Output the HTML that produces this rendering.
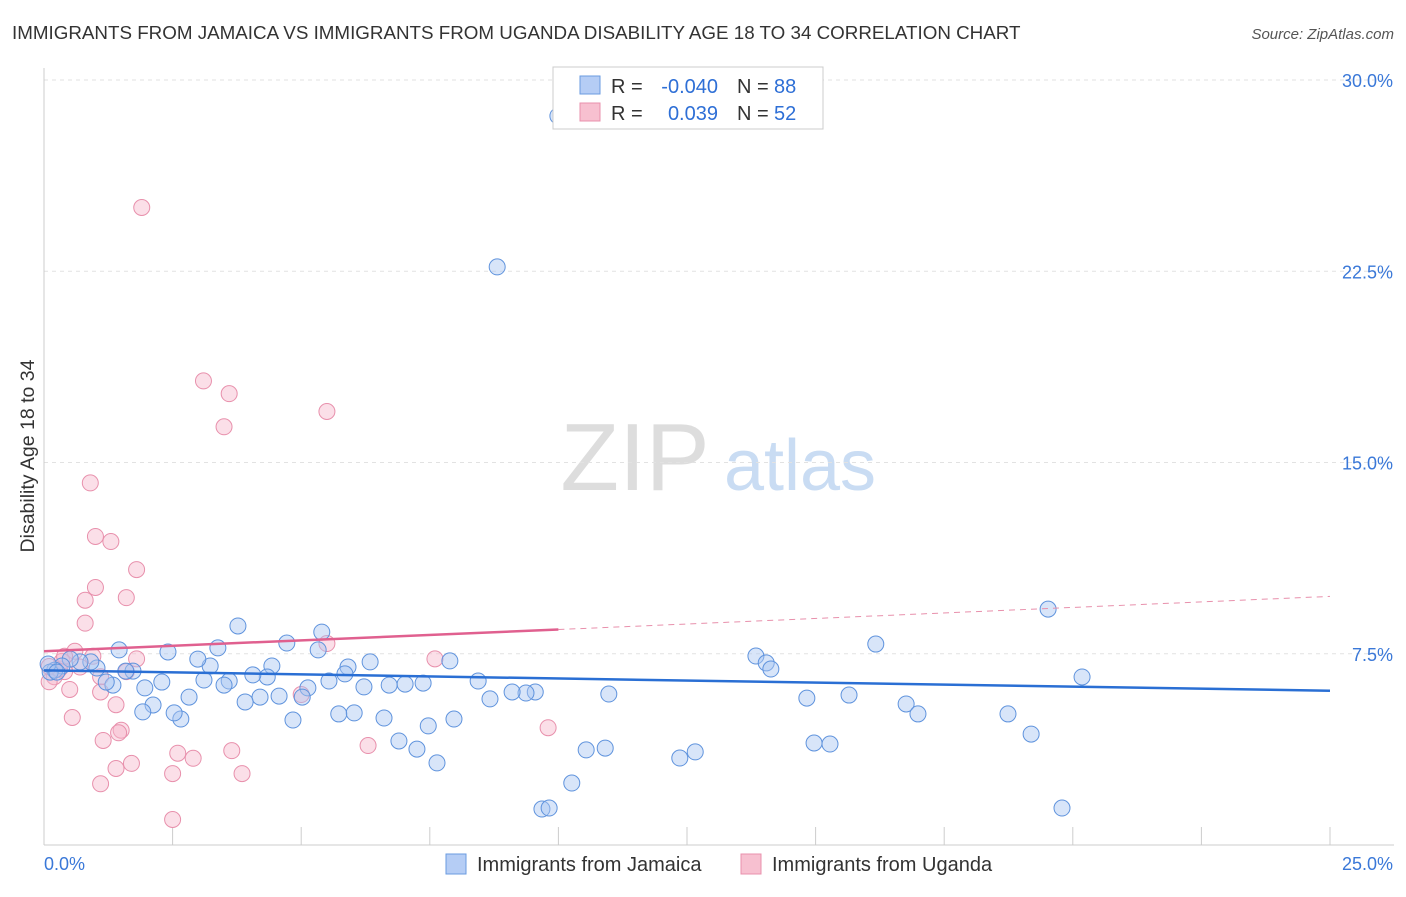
<!DOCTYPE html>
<html><head><meta charset="utf-8"><style>
body{margin:0;background:#fff;font-family:"Liberation Sans",sans-serif}
svg text{font-family:"Liberation Sans",sans-serif}
</style></head><body>
<svg width="1406" height="892" xmlns="http://www.w3.org/2000/svg">
<text x="12" y="39" font-size="18.8" fill="#333">IMMIGRANTS FROM JAMAICA VS IMMIGRANTS FROM UGANDA DISABILITY AGE 18 TO 34 CORRELATION CHART</text>
<text x="1394" y="39" font-size="15" fill="#555" text-anchor="end" font-style="italic">Source: ZipAtlas.com</text>
<g>
<text x="635" y="490" font-size="96" fill="#ddd" text-anchor="middle" font-family="Liberation Serif,serif">ZIP</text>
<text x="800" y="490" font-size="72" fill="#c9dcf3" text-anchor="middle">atlas</text></g>
<g id="grid"></g><g id="axes"></g><g id="marks"></g>
<text transform="translate(34,456) rotate(-90)" font-size="19.5" fill="#333" text-anchor="middle">Disability Age 18 to 34</text>
<g>
<rect x="553" y="67" width="270" height="62" fill="#fff" stroke="#ccc"/>
<rect x="580" y="76" width="20" height="18" fill="#b5cdf5" stroke="#6a9be0"/>
<rect x="580" y="103" width="20" height="18" fill="#f7c0d0" stroke="#e890ac"/>
<text x="611" y="93" font-size="20" fill="#333">R =</text>
<text x="718" y="93" font-size="20" fill="#2e6fd6" text-anchor="end">-0.040</text>
<text x="737" y="93" font-size="20" fill="#333">N =</text>
<text x="774" y="93" font-size="20" fill="#2e6fd6">88</text>
<text x="611" y="120" font-size="20" fill="#333">R =</text>
<text x="718" y="120" font-size="20" fill="#2e6fd6" text-anchor="end">0.039</text>
<text x="737" y="120" font-size="20" fill="#333">N =</text>
<text x="774" y="120" font-size="20" fill="#2e6fd6">52</text></g>
<g>
<rect x="446" y="854" width="20" height="20" fill="#b5cdf5" stroke="#6a9be0"/>
<text x="477" y="871" font-size="20" fill="#333">Immigrants from Jamaica</text>
<rect x="741" y="854" width="20" height="20" fill="#f7c0d0" stroke="#e890ac"/>
<text x="772" y="871" font-size="20" fill="#333">Immigrants from Uganda</text></g>
</svg>
<script>
const yTicks=[7.5,15,22.5,30];
const yTickLabels=["7.5%","15.0%","22.5%","30.0%"];
const xTickLabels=["0.0%","25.0%"];
const jamaicaX=[9.99,8.81,19.52,20.18,18.74,19.19,19.79,16.76,16.99,15.65,14.83,14.97,15.28,16.17,13.84,14.04,14.13,12.66,12.36,10.98,10.54,10.91,10.26,9.68,9.82,9.55,9.37,9.1,8.67,8.44,7.89,7.97,7.64,7.47,7.25,7.37,7.02,6.9,6.71,6.61,6.34,6.22,5.91,5.85,6.03,5.73,5.54,5.4,5.33,5.13,5.02,4.84,4.57,4.72,4.43,4.34,4.2,3.91,4.06,3.6,3.5,3.77,3.38,3.23,3.11,2.99,2.82,2.66,2.53,2.41,2.29,2.12,1.96,1.92,1.73,1.59,1.46,1.34,1.21,1.03,0.91,0.7,0.51,0.35,0.21,0.12,0.08,0.25];
const jamaicaY=[28.59,22.67,9.25,6.59,5.14,4.35,1.45,5.53,5.14,5.88,5.76,4.0,3.96,7.88,7.41,7.14,6.9,3.65,3.41,5.92,3.73,3.8,2.43,1.41,1.45,6.0,5.96,6.0,5.73,6.43,7.22,4.94,3.22,4.67,3.76,6.35,6.31,4.08,6.27,4.98,7.18,6.2,6.98,6.71,5.18,5.14,6.43,8.35,7.65,6.16,5.8,4.9,5.84,7.92,7.02,6.59,5.8,5.61,6.67,6.43,6.27,8.59,7.73,7.02,6.47,7.29,5.8,4.94,5.18,7.57,6.39,5.49,6.16,5.22,6.82,6.82,7.65,6.27,6.39,6.94,7.18,7.18,7.29,7.02,6.86,6.78,7.1,6.78];
const ugandaX=[1.9,3.1,3.6,3.5,5.5,0.9,1.0,1.3,1.8,1.0,0.8,1.6,0.8,5.5,7.6,0.6,0.95,1.8,1.1,1.6,0.4,0.2,0.1,0.5,1.1,1.4,0.55,1.5,1.45,1.15,2.6,2.9,3.65,6.3,9.8,5.0,1.4,1.7,2.5,3.85,1.1,2.5,0.3,0.7,0.35,0.1,0.4];
const ugandaY=[25.0,18.2,17.7,16.4,17.0,14.2,12.1,11.9,10.8,10.1,9.6,9.7,8.7,7.9,7.3,7.6,7.4,7.3,6.6,6.8,6.8,6.6,6.4,6.1,6.0,5.5,5.0,4.5,4.4,4.1,3.6,3.4,3.7,3.9,4.6,5.9,3.0,3.2,2.8,2.8,2.4,1.0,6.9,6.98,7.2,7.0,7.4];
const X0=44,X1=1330,Y0=845,PY=25.5;
const sx=v=>X0+(X1-X0)*v/25, sy=v=>Y0-PY*v;
const NS="http://www.w3.org/2000/svg";
function mk(p,t,a){const e=document.createElementNS(NS,t);for(const k in a)e.setAttribute(k,a[k]);p.appendChild(e);return e;}
const grid=document.getElementById('grid'),axes=document.getElementById('axes'),marks=document.getElementById('marks');
yTicks.forEach((v,i)=>{
 const l=mk(grid,'line',{x1:X0,x2:1394,y1:sy(v),y2:sy(v),stroke:'#e2e2e2','stroke-dasharray':'4,4'});
 
 
 const t=mk(axes,'text',{x:1393,y:sy(v)+7,'font-size':18,fill:'#3a78d8','text-anchor':'end'});
 t.textContent=yTickLabels[i];
 
 
});
const ax=mk(axes,'line',{x1:X0,x2:X0,y1:68,y2:Y0,stroke:'#ccc'});


const bx=mk(axes,'line',{x1:X0,x2:1394,y1:Y0,y2:Y0,stroke:'#ccc'});


for(let i=0;i<=10;i++){const t=mk(axes,'line',{x1:sx(i*2.5),x2:sx(i*2.5),y1:Y0,y2:Y0-18,stroke:'#ccc'});
 
 }
const xl0=mk(axes,'text',{x:44,y:870,'font-size':18,fill:'#3a78d8'});xl0.textContent=xTickLabels[0];


const xl1=mk(axes,'text',{x:1393,y:870,'font-size':18,fill:'#3a78d8','text-anchor':'end'});xl1.textContent=xTickLabels[1];


function pts(xs,ys,fill,stroke,name){xs.forEach((x,i)=>{const c=mk(marks,'circle',{cx:sx(x),cy:sy(ys[i]),r:8,fill:fill,'fill-opacity':0.45,stroke:stroke,'stroke-width':1});
 
 });}
pts(ugandaX,ugandaY,'#f7b8cb','#e890ac','uganda-point');
pts(jamaicaX,jamaicaY,'#a9c6f2','#5f93dd','jamaica-point');
const bl=mk(marks,'line',{x1:sx(0),y1:sy(6.85),x2:sx(25),y2:sy(6.05),stroke:'#2a6fd4','stroke-width':2.5});


const pl=mk(marks,'line',{x1:sx(0),y1:sy(7.6),x2:sx(10),y2:sy(8.45),stroke:'#e0608f','stroke-width':2.5});


const pd=mk(marks,'line',{x1:sx(10),y1:sy(8.45),x2:sx(25),y2:sy(9.75),stroke:'#e890ac','stroke-width':1,'stroke-dasharray':'6,5'});


</script>
</body></html>
